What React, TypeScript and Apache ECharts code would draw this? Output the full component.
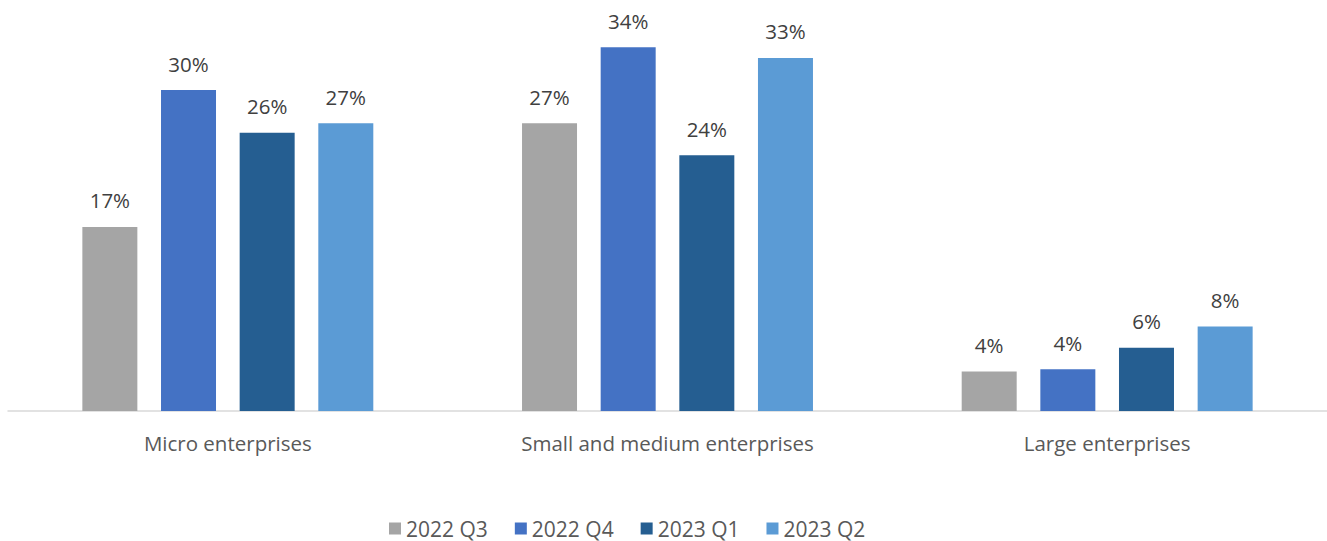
import React, { useEffect, useRef } from "react";
import * as echarts from "echarts";

const categories = ["Micro enterprises", "Small and medium enterprises", "Large enterprises"];
const seriesNames = ["2022 Q3", "2022 Q4", "2023 Q1", "2023 Q2"];
const q3_2022 = [17.2, 26.9, 3.7];
const q4_2022 = [30.0, 34.0, 3.9];
const q1_2023 = [26.0, 23.9, 5.9];
const q2_2023 = [26.9, 33.0, 7.9];
const colors = ["#A5A5A5", "#4472C4", "#255E91", "#5B9BD5"];

const FONT = "'Open Sans', 'Liberation Sans', sans-serif";

export default function App() {
  const ref = useRef<HTMLDivElement>(null);
  useEffect(() => {
    if (!ref.current) return;
    const chart = echarts.init(ref.current, undefined, { renderer: "svg" });
    const data = [q3_2022, q4_2022, q1_2023, q2_2023];
    chart.setOption({
      animation: false,
      color: colors,
      textStyle: { fontFamily: FONT },
      grid: { left: 8, right: 0, top: 36.5, bottom: 130, containLabel: false },
      legend: {
        bottom: -3,
        left: 384,
        itemWidth: 12,
        itemHeight: 12,
        itemGap: 27,
        icon: "rect",
        textStyle: { fontFamily: FONT, fontSize: 21, color: "#595959" },
        data: seriesNames,
      },
      xAxis: {
        type: "category",
        data: categories,
        axisLine: { lineStyle: { color: "#D9D9D9", width: 1.5 } },
        axisTick: { show: false },
        axisLabel: { fontFamily: FONT, fontSize: 20.5, color: "#595959", margin: 21 },
      },
      yAxis: {
        type: "value",
        min: 0,
        max: 35,
        show: false,
        splitLine: { show: false },
      },
      series: seriesNames.map((name, i) => ({
        name,
        type: "bar",
        data: data[i],
        barWidth: 55,
        barGap: "43%",
        itemStyle: { color: colors[i] },
        label: {
          show: true,
          position: "top",
          distance: 16,
          fontFamily: FONT,
          fontSize: 20.5,
          color: "#404040",
          formatter: (p: any) => Math.round(p.value) + "%",
        },
      })),
    });
    return () => chart.dispose();
  }, []);
  return (
    <div
      ref={ref}
      style={{ position: "fixed", left: 0, top: 0, width: 1327, height: 541, background: "#fff" }}
    />
  );
}
